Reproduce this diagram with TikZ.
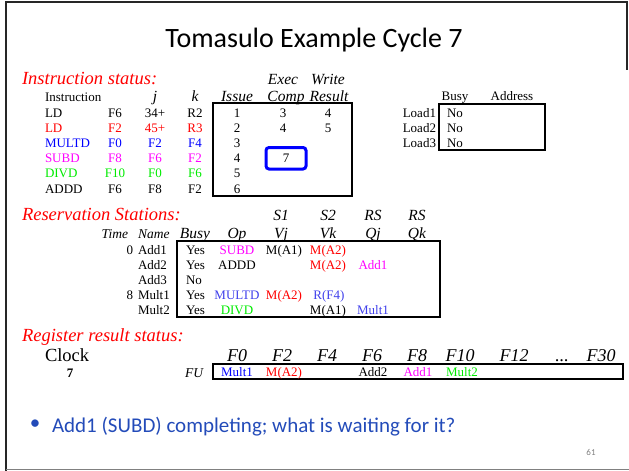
\documentclass[tikz,border=0pt]{standalone}
\usepackage{fontspec}
\setmainfont{Liberation Serif}
\newfontfamily\slidefont{Carlito}
\definecolor{tred}{RGB}{255,0,0}
\definecolor{tblue}{RGB}{0,0,255}
\definecolor{lblue}{RGB}{64,64,235}
\definecolor{tmag}{RGB}{255,0,255}
\definecolor{tgreen}{RGB}{0,235,0}
\definecolor{bullblue}{RGB}{35,75,185}
\begin{document}
\begin{tikzpicture}[x=1pt,y=-1pt,
  every node/.style={inner sep=0pt,outer sep=0pt},
  hd/.style={font=\fontsize{18.5}{20}\selectfont\itshape,text=tred,anchor=base west},
  ch/.style={font=\fontsize{15.5}{17}\selectfont\itshape,anchor=base},
  chs/.style={font=\fontsize{13.5}{15}\selectfont\itshape,anchor=base},
  cell/.style={font=\fontsize{13}{14}\selectfont,anchor=base},
  cellL/.style={cell,anchor=base west},
  cellR/.style={cell,anchor=base east},
  reg/.style={font=\fontsize{18}{20}\selectfont\itshape,anchor=base},
  tbl/.style={draw,line width=1.2pt}]
\useasboundingbox (0,0) rectangle (629,471);

% slide frame
\draw[line width=2pt,black!85] (5.5,471) -- (5.5,1.5) -- (626.5,1.5) -- (626.5,70);
\draw[line width=1.5pt,black!50] (5.5,469.5) -- (629,469.5);

% title
\node[font=\slidefont\fontsize{28}{30}\selectfont] (title) at (314,40) {Tomasulo Example Cycle 7};

% ---------------- instruction status ----------------
\node[hd] (ishd) at (22,84) {Instruction status:};
\node[ch] (hexec) at (283,84) {Exec};
\node[ch] (hwrite) at (328,84) {Write};
\node[cellL] (hinstr) at (45,101) {Instruction};
\node[ch] (hj) at (155,101) {j};
\node[ch] (hk) at (195,101) {k};
\node[ch] (hissue) at (237,101) {Issue};
\node[ch] (hcomp) at (286,101) {Comp};
\node[ch] (hresult) at (329,101) {Result};
\draw[tbl] (213,103) rectangle (352,196);

\foreach \op/\d/\j/\k/\c [count=\i] in
  {LD/F6/34+/R2/black, LD/F2/45+/R3/tred, MULTD/F0/F2/F4/tblue,
   SUBD/F8/F6/F2/tmag, DIVD/F10/F0/F6/tgreen, ADDD/F6/F8/F2/black}{
  \pgfmathsetmacro\yy{117+15.2*(\i-1)}
  \node[cellL,text=\c] (op\i) at (45,\yy) {\op};
  \node[cell,text=\c] (dst\i) at (115,\yy) {\d};
  \node[cell,text=\c] (srcj\i) at (155,\yy) {\j};
  \node[cell,text=\c] (srck\i) at (195,\yy) {\k};
  \node[cell] (iss\i) at (237,\yy) {\i};
}
\node[cell] (ex1) at (283,117) {3};
\node[cell] (ex2) at (283,132.2) {4};
\node[cell] (ex4) at (286,162.6) {7};
\node[cell] (wr1) at (328,117) {4};
\node[cell] (wr2) at (328,132.2) {5};
\draw[tblue,line width=3pt,rounded corners=3pt] (266,147.5) rectangle (306,169);

% load buffers
\node[cell] (lbusy) at (455,100) {Busy};
\node[cell] (laddr) at (512,100) {Address};
\draw[tbl] (439,104) rectangle (545,150);
\foreach \i in {1,2,3}{
  \pgfmathsetmacro\yy{117+15*(\i-1)}
  \node[cellR] (ld\i) at (436,\yy) {Load\i};
  \node[cellL] (ldb\i) at (447,\yy) {No};
}

% ---------------- reservation stations ----------------
\node[hd] (rshd) at (22,220) {Reservation Stations:};
\node[ch] (hs1) at (281,220) {S1};
\node[ch] (hs2) at (328,220) {S2};
\node[ch] (hrs1) at (373,220) {RS};
\node[ch] (hrs2) at (417,220) {RS};
\node[chs,anchor=base east] (htime) at (128,238) {Time};
\node[chs,anchor=base west] (hname) at (138,238) {Name};
\node[ch] (hbusy) at (195,238) {Busy};
\node[ch] (hop) at (237,238) {Op};
\node[ch] (hvj) at (281,238) {Vj};
\node[ch] (hvk) at (328,238) {Vk};
\node[ch] (hqj) at (373,238) {Qj};
\node[ch] (hqk) at (417,238) {Qk};
\draw[tbl] (177,241) rectangle (440,317);

\foreach \nm [count=\i] in {Add1,Add2,Add3,Mult1,Mult2}{
  \pgfmathsetmacro\yy{254+15.1*(\i-1)}
  \node[cellL] (rsn\i) at (138,\yy) {\nm};
}
\node[cellR] (rst1) at (133,254) {0};
\node[cellR] (rst4) at (133,299.3) {8};

\node[cellL] (rsb1) at (186,254) {Yes};
\node[cellL] (rsb2) at (186,269.1) {Yes};
\node[cellL] (rsb3) at (186,284.2) {No};
\node[cellL] (rsb4) at (186,299.3) {Yes};
\node[cellL] (rsb5) at (186,314.4) {Yes};

\node[cell,text=tmag] (rso1) at (237,254) {SUBD};
\node[cell] (rso2) at (237,269.1) {ADDD};
\node[cell,text=lblue] (rso4) at (237,299.3) {MULTD};
\node[cell,text=tgreen] (rso5) at (237,314.4) {DIVD};

\node[cell] (rsvj1) at (284,254) {M(A1)};
\node[cell,text=tred] (rsvj4) at (284,299.3) {M(A2)};

\node[cell,text=tred] (rsvk1) at (328,254) {M(A2)};
\node[cell,text=tred] (rsvk2) at (328,269.1) {M(A2)};
\node[cell,text=lblue] (rsvk4) at (329,299.3) {R(F4)};
\node[cell] (rsvk5) at (328,314.4) {M(A1)};

\node[cell,text=tmag] (rsqj2) at (373,269.1) {Add1};
\node[cell,text=lblue] (rsqj5) at (373,314.4) {Mult1};

% ---------------- register result status ----------------
\node[hd] (rghd) at (22,341) {Register result status:};
\node[font=\fontsize{18.5}{20}\selectfont,anchor=base west] (clock) at (45,361) {Clock};
\foreach \r/\xx in {F0/237,F2/282,F4/327,F6/372,F8/417,F10/460,F12/514,F30/601}{
  \node[reg] (reg\r) at (\xx,361) {\r};
}
\node[reg] (regdots) at (562,361) {...};
\node[cell,font=\fontsize{13}{14}\selectfont\bfseries] (clk) at (70,377) {7};
\node[chs,anchor=base east] (fu) at (203,377) {FU};
\draw[tbl] (213,364) rectangle (623,379);
\node[cell,text=tblue] (fu0) at (237,376.5) {Mult1};
\node[cell,text=tred] (fu2) at (284,376.5) {M(A2)};
\node[cell] (fu6) at (373,376.5) {Add2};
\node[cell,text=tmag] (fu8) at (418,376.5) {Add1};
\node[cell,text=tgreen] (fu10) at (462,376.5) {Mult2};

% ---------------- bullet and page number ----------------
\node[font=\slidefont\fontsize{21}{23}\selectfont,text=bullblue] (dot) at (35,425) {•};
\node[font=\slidefont\fontsize{21}{23}\selectfont,text=bullblue,anchor=base west] (bullet) at (52,432)
  {Add1 (SUBD) completing; what is waiting for it?};
\node[font=\slidefont\fontsize{9}{10}\selectfont,text=black!50,anchor=base] (pgno) at (591,455) {61};
\end{tikzpicture}
\end{document}
